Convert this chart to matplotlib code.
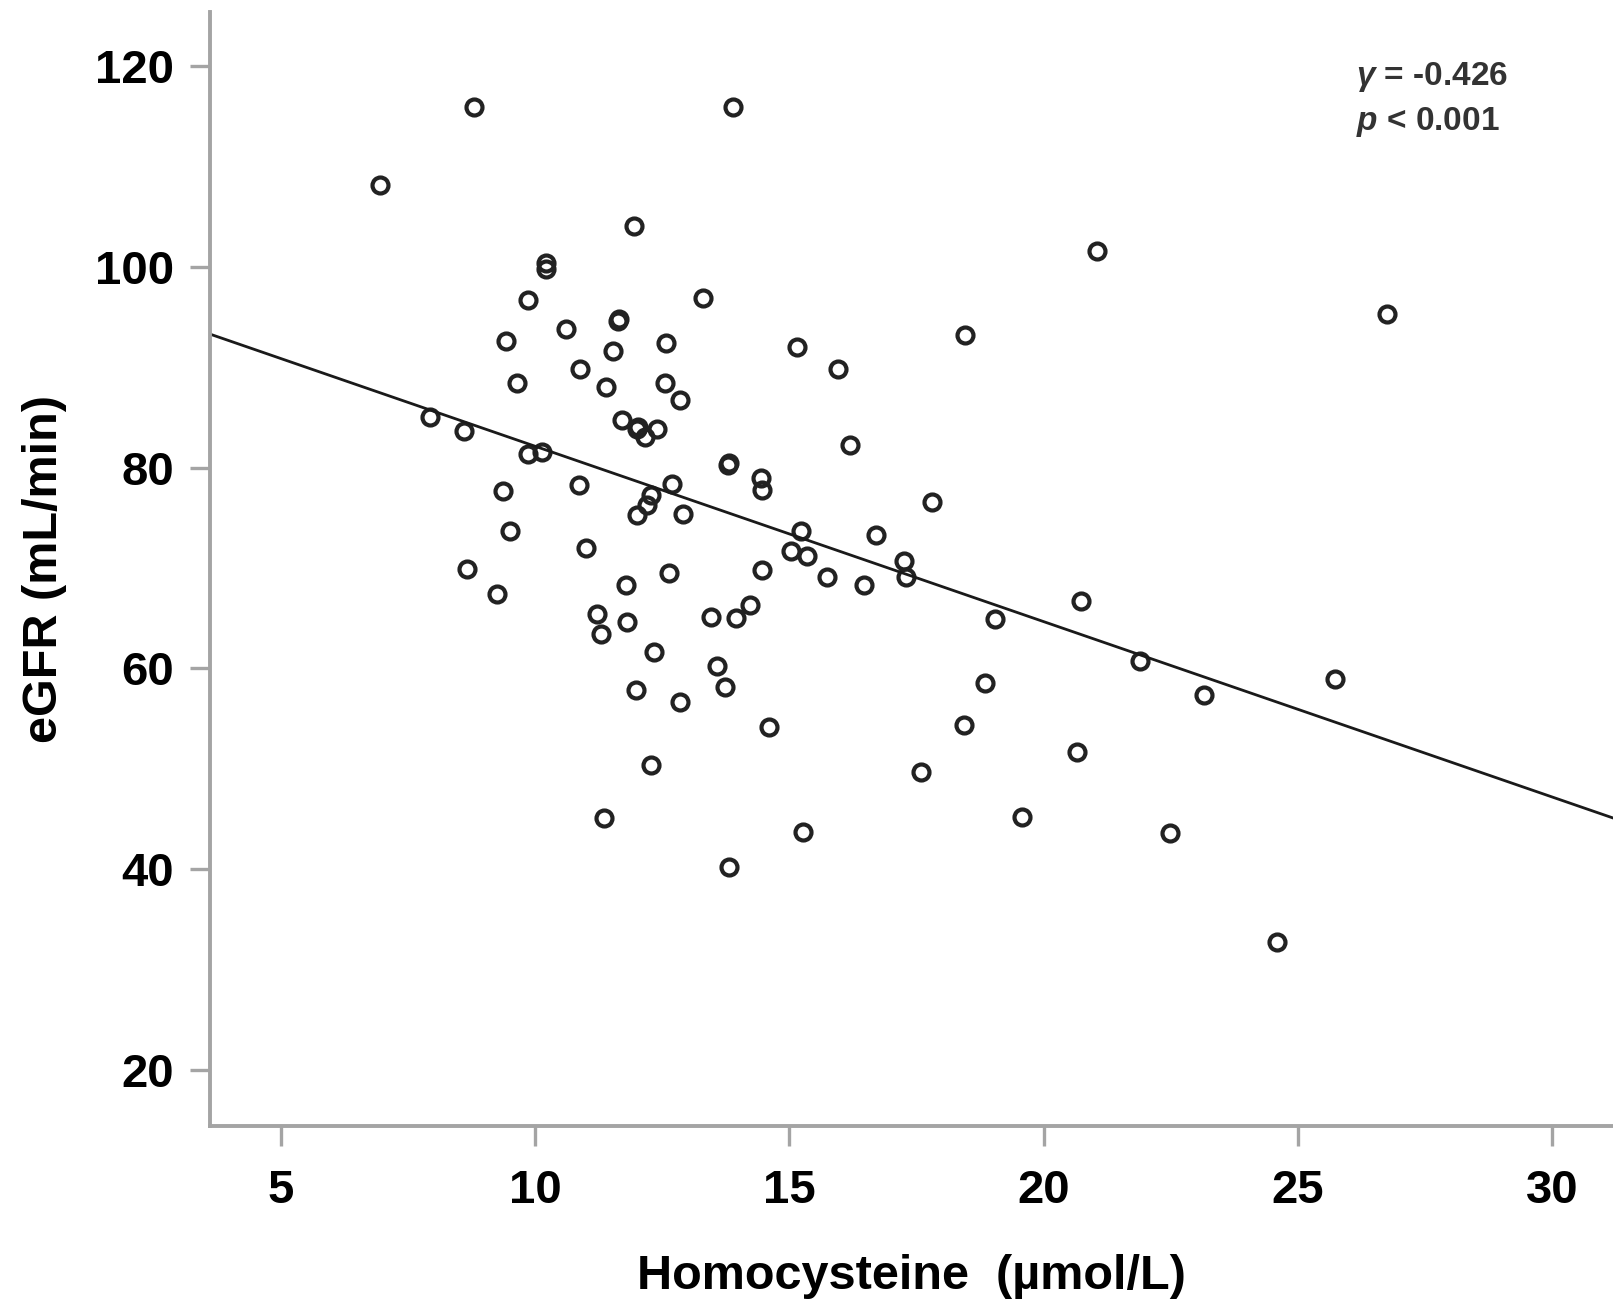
import matplotlib
matplotlib.use("Agg")
import matplotlib.pyplot as plt
import numpy as np

# Homocysteine (umol/L) vs eGFR (mL/min)
hcy = [6.94, 8.79, 13.89, 11.94, 10.22, 10.22, 21.05, 26.76, 9.86, 13.30,
       11.64, 11.66, 10.61, 9.43, 12.57, 11.54, 15.16, 18.46, 15.95, 10.89,
       9.64, 11.40, 12.55, 12.85, 7.94, 8.60, 11.70, 12.00, 12.02, 12.16,
       12.39, 9.86, 10.14, 16.19, 13.79, 13.81, 9.37, 10.87, 12.69, 14.45,
       14.47, 17.81, 12.27, 12.21, 12.00, 12.91, 9.51, 15.22, 16.70, 11.01,
       15.04, 15.34, 17.25, 17.29, 15.75, 16.46, 14.47, 8.66, 12.63, 11.78,
       9.25, 20.73, 14.23, 13.95, 13.46, 11.21, 11.30, 11.80, 19.05, 12.33,
       21.90, 13.58, 13.74, 11.98, 12.85, 18.85, 23.16, 25.73, 14.60, 18.44,
       12.27, 17.59, 20.65, 11.36, 15.26, 19.57, 22.49, 13.81, 24.60]
egfr = [108.1, 115.9, 115.9, 104.1, 100.4, 99.8, 101.6, 95.3, 96.7, 96.9,
        94.6, 94.8, 93.8, 92.6, 92.4, 91.6, 92.0, 93.2, 89.8, 89.8,
        88.4, 88.0, 88.4, 86.7, 85.0, 83.6, 84.7, 83.8, 84.0, 83.0,
        83.8, 81.3, 81.5, 82.2, 80.3, 80.5, 77.7, 78.3, 78.4, 79.0,
        77.8, 76.6, 77.3, 76.3, 75.3, 75.4, 73.7, 73.7, 73.3, 72.0,
        71.7, 71.2, 70.7, 69.1, 69.1, 68.3, 69.8, 69.9, 69.5, 68.3,
        67.4, 66.7, 66.3, 65.0, 65.1, 65.4, 63.4, 64.6, 64.9, 61.6,
        60.7, 60.2, 58.1, 57.8, 56.7, 58.5, 57.3, 58.9, 54.2, 54.4,
        50.4, 49.7, 51.7, 45.1, 43.7, 45.2, 43.6, 40.2, 32.7]

# regression line as drawn (ends read at the axis limits)
fit_x = [3.6, 31.2]
fit_y = [93.3, 45.1]

x_ticks = [5, 10, 15, 20, 25, 30]
y_ticks = [20, 40, 60, 80, 100, 120]

plt.rcParams['font.family'] = ['Liberation Sans', 'DejaVu Sans']
plt.rcParams['mathtext.fontset'] = 'custom'
plt.rcParams['mathtext.it'] = 'Liberation Sans:italic:bold'
plt.rcParams['mathtext.rm'] = 'Liberation Sans:bold'

fig = plt.figure(figsize=(16.13, 12.99), dpi=100)
ax = fig.add_axes([0.130, 0.133, 0.870, 0.858])

ax.plot(hcy, egfr, linestyle='none', marker='o', markersize=11.5,
        markerfacecolor='none', markeredgecolor='#222222', markeredgewidth=3.0)
ax.plot(fit_x, fit_y, color='#1a1a1a', linewidth=2.0)

ax.set_xlim(3.6, 31.2)
ax.set_ylim(14.4, 125.4)
ax.set_xticks(x_ticks)
ax.set_yticks(y_ticks)

grey = '#a4a4a4'
for side in ['top', 'right']:
    ax.spines[side].set_visible(False)
for side in ['left', 'bottom']:
    ax.spines[side].set_color(grey)
    ax.spines[side].set_linewidth(2.8)
ax.tick_params(axis='both', direction='out', length=14.5, width=2.4, color=grey,
               labelsize=34)
ax.tick_params(axis='x', pad=16)
ax.tick_params(axis='y', pad=11)
for lab in ax.get_xticklabels() + ax.get_yticklabels():
    lab.set_fontweight('bold')

ax.set_xlabel('Homocysteine  (\u00b5mol/L)', fontsize=35, fontweight='bold', labelpad=30)
ax.set_ylabel('eGFR (mL/min)', fontsize=35, fontweight='bold', labelpad=20)

ax.text(0.817, 0.941, r'$\mathit{\gamma}$ = -0.426', transform=ax.transAxes,
        fontsize=24, fontweight='bold', color='#333333', va='center')
ax.text(0.817, 0.901, r'$\mathit{p}$ < 0.001', transform=ax.transAxes,
        fontsize=24, fontweight='bold', color='#333333', va='center')

fig.savefig('out.png', dpi=100)
